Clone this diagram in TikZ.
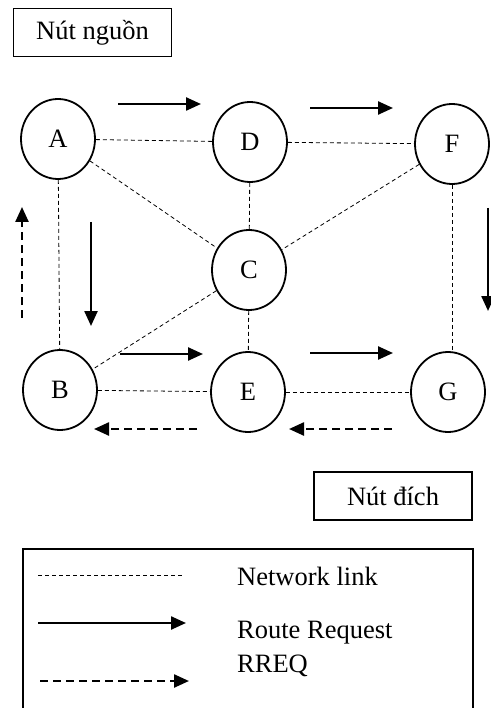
\documentclass[tikz,border=0pt]{standalone}
\usepackage{fontspec}
\setmainfont{Liberation Serif}
\usetikzlibrary{arrows.meta,shapes.geometric}
\tikzset{
  host/.style={ellipse, draw, line width=1.8pt, minimum width=74pt, minimum height=80pt, inner sep=0pt},
  netlink/.style={line width=0.8pt, dash pattern=on 4pt off 3pt},
  rreq/.style={line width=2.4pt, -{Triangle[length=15pt,width=13pt]}},
  rrep/.style={rreq, dash pattern=on 8pt off 5pt},
  tagbox/.style={draw, line width=1.5pt, minimum width=158pt, minimum height=48pt, inner sep=0pt}
}
\begin{document}
\begin{tikzpicture}[x=1pt, y=-1pt, font=\fontsize{26.5}{30}\selectfont]
\useasboundingbox (0,0) rectangle (490,708);
% hosts
\node[host] (A) at (58,139) {A};
\node[host] (D) at (250,142) {D};
\node[host] (F) at (452,144) {F};
\node[host] (C) at (249,270) {C};
\node[host] (B) at (60,390) {B};
\node[host] (E) at (248,392) {E};
\node[host] (G) at (448,392) {G};
% network links
\draw[netlink] (A) -- (D);
\draw[netlink] (D) -- (F);
\draw[netlink] (A) -- (C);
\draw[netlink] (A) -- (B);
\draw[netlink] (D) -- (C);
\draw[netlink] (F) -- (C);
\draw[netlink] (C) -- (B);
\draw[netlink] (C) -- (E);
\draw[netlink] (F.south) -- (F.south |- G.north);
\draw[netlink] (B) -- (E);
\draw[netlink] (E) -- (G);
% route request
\draw[rreq] (118,104) -- (201,104);
\draw[rreq] (310,108) -- (393,108);
\draw[rreq] (91,222) -- (91,326);
\draw[rreq] (120,354) -- (203,354);
\draw[rreq] (310,353) -- (393,353);
\draw[rreq] (488,208) -- (488,311);
% route reply
\draw[rrep] (22,318) -- (22,207);
\draw[rrep] (197,429) -- (94,429);
\draw[rrep] (392,429) -- (289,429);
% source / destination
\node[tagbox] (src) at (92.5,32.5) {Nút nguồn};
\node[tagbox] (dst) at (393,496) {Nút đích};
% legend
\draw[line width=1.5pt] (23,708) -- (23,549) -- (473,549) -- (473,708);
\draw[netlink] (38,575) -- (183,575);
\draw[rreq] (38,623) -- (186,623);
\draw[rrep] (40,681) -- (189,681);
\node[anchor=base west, inner sep=0pt] (lnet) at (237,585) {Network link};
\node[anchor=base west, inner sep=0pt] (lreq) at (237,638) {Route Request};
\node[anchor=base west, inner sep=0pt] (lrreq) at (237,672) {RREQ};
\end{tikzpicture}
\end{document}
